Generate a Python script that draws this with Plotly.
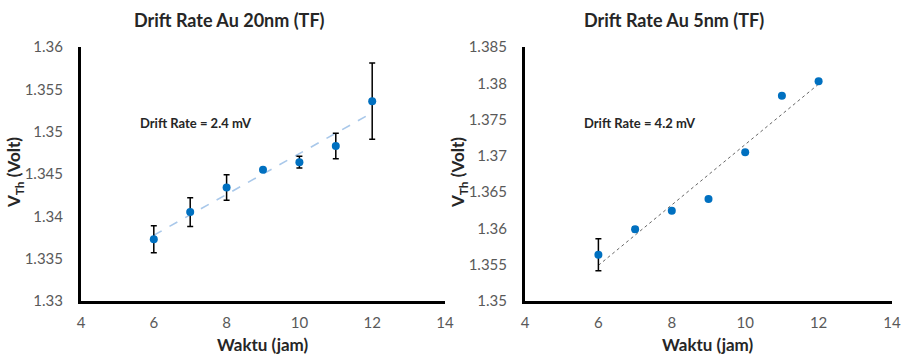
import numpy as np
import plotly.graph_objects as go

# ---- data ----
hours = [6, 7, 8, 9, 10, 11, 12]
vth_20nm = [1.3373, 1.3405, 1.3434, 1.3455, 1.3464, 1.3483, 1.3536]
err_20nm = [0.0016, 0.0017, 0.0015, 0.0002, 0.0007, 0.0015, 0.0045]
vth_5nm = [1.35638, 1.35988, 1.36244, 1.36406, 1.37049, 1.37829, 1.38027]
err_5nm = [0.0022, 0.0003, 0.0, 0.0, 0.0, 0.0, 0.0]

x_ticks = [4, 6, 8, 10, 12, 14]
y_ticks_20 = [1.33, 1.335, 1.34, 1.345, 1.35, 1.355, 1.36]
y_text_20 = ["1.33", "1.335", "1.34", "1.345", "1.35", "1.355", "1.36"]
y_ticks_5 = [1.35, 1.355, 1.36, 1.365, 1.37, 1.375, 1.38, 1.385]
y_text_5 = ["1.35", "1.355", "1.36", "1.365", "1.37", "1.375", "1.38", "1.385"]

titles = ["Drift Rate Au 20nm (TF)", "Drift Rate Au 5nm (TF)"]
rate_labels = ["Drift Rate = 2.4 mV", "Drift Rate = 4.2 mV"]
x_title = "Waktu (jam)"
y_title = "V<sub>Th</sub> (Volt)"

FONT = "Lato"
BLUE = "#0070C0"

fig = go.Figure()

def trend(x, y):
    k, b = np.polyfit(x, y, 1)
    xs = [min(x), max(x)]
    return xs, [k * v + b for v in xs]

# left panel
tx, ty = trend(hours, vth_20nm)
fig.add_trace(go.Scatter(x=tx, y=ty, mode="lines", xaxis="x", yaxis="y",
                         line=dict(color="#A9C8EA", width=1.6, dash="dash"),
                         showlegend=False, hoverinfo="skip"))
fig.add_trace(go.Scatter(x=hours, y=vth_20nm, mode="markers", xaxis="x", yaxis="y",
                         marker=dict(color=BLUE, size=8),
                         error_y=dict(type="data", array=err_20nm, color="black",
                                      thickness=1.5, width=3),
                         showlegend=False))
# right panel
tx, ty = trend(hours, vth_5nm)
fig.add_trace(go.Scatter(x=tx, y=ty, mode="lines", xaxis="x2", yaxis="y2",
                         line=dict(color="#666666", width=1, dash="dot"),
                         showlegend=False, hoverinfo="skip"))
fig.add_trace(go.Scatter(x=hours, y=vth_5nm, mode="markers", xaxis="x2", yaxis="y2",
                         marker=dict(color=BLUE, size=8),
                         error_y=dict(type="data", array=err_5nm, color="black",
                                      thickness=1.5, width=3),
                         showlegend=False))

tickfont = dict(family=FONT, size=15, color="#595959")

def xax(domain, anchor):
    return dict(domain=domain, anchor=anchor, range=[4, 14], tickvals=x_ticks,
                ticktext=[str(v) for v in x_ticks], showline=True, linecolor="black",
                linewidth=3, showgrid=False, zeroline=False, ticks="",
                tickfont=tickfont, ticklabelstandoff=6, automargin=False)

def yax(domain, anchor, rng, vals, text):
    return dict(domain=domain, anchor=anchor, range=rng, tickvals=vals, ticktext=text,
                showline=True, linecolor="black", linewidth=3, showgrid=False,
                zeroline=False, ticks="", tickfont=tickfont, ticklabelstandoff=12,
                automargin=False)

def note(text, x, y, size, xanchor, angle=0):
    return dict(text="<b>" + text + "</b>", x=x / 901, y=1 - y / 354, xref="paper",
                yref="paper", xanchor=xanchor, yanchor="middle", showarrow=False,
                textangle=angle, font=dict(family=FONT, size=size, color="#262626"))

ydom = [1 - 301 / 354, 1 - 47 / 354]
fig.update_layout(
    width=901, height=354, margin=dict(l=0, r=0, t=0, b=0, autoexpand=False),
    paper_bgcolor="white", plot_bgcolor="white",
    xaxis=xax([81 / 901, 445 / 901], "y"),
    yaxis=yax(ydom, "x", [1.33, 1.36], y_ticks_20, y_text_20),
    xaxis2=xax([525 / 901, 892 / 901], "y2"),
    yaxis2=yax(ydom, "x2", [1.35, 1.385], y_ticks_5, y_text_5),
    annotations=[
        note(titles[0], 229, 20, 18, "center"),
        note(titles[1], 674, 20, 18, "center"),
        note(rate_labels[0], 138, 123, 13, "left"),
        note(rate_labels[1], 582, 123, 13, "left"),
        note(x_title, 263, 344, 17, "center"),
        note(x_title, 708, 344, 17, "center"),
        note(y_title, 15, 173, 17, "center", -90),
        note(y_title, 459, 173, 17, "center", -90),
    ],
)

fig.write_html("out.html")
